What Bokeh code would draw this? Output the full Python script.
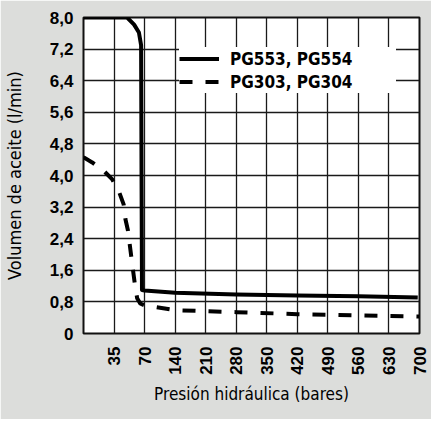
import numpy as np
from bokeh.plotting import figure
from bokeh.models import Range1d, FixedTicker, Legend, LegendItem
from bokeh.embed import file_html
from bokeh.resources import INLINE

# Axis ticks (x axis is an evenly spaced, non-linear pressure scale)
pressure_ticks = [0, 35, 70, 140, 210, 280, 350, 420, 490, 560, 630, 700]
pressure_labels = ["", "35", "70", "140", "210", "280", "350", "420", "490", "560", "630", "700"]
volume_ticks = [0, 0.8, 1.6, 2.4, 3.2, 4.0, 4.8, 5.6, 6.4, 7.2, 8.0]
volume_labels = ["0", "0,8", "1,6", "2,4", "3,2", "4,0", "4,8", "5,6", "6,4", "7,2", "8,0"]

# Series: PG553, PG554 (solid)
pg553_pressure = [0, 50, 58, 63.5, 66, 66.5, 67, 70, 140, 280, 420, 560, 696]
pg553_volume = [8.0, 8.0, 7.82, 7.62, 7.3, 4.0, 1.1, 1.09, 1.03, 0.99, 0.96, 0.94, 0.91]

# Series: PG303, PG304 (dashed)
pg303_pressure = [0, 10, 24, 33, 41, 46, 48, 51, 55, 59, 61.5, 65, 70, 140, 280, 420, 560, 700]
pg303_volume = [4.46, 4.33, 4.1, 3.9, 3.57, 3.27, 2.9, 2.6, 1.9, 1.22, 0.89, 0.76, 0.71, 0.59, 0.54, 0.49, 0.46, 0.43]

tick_pos = list(range(len(pressure_ticks)))


def to_pos(p):
    return np.interp(p, pressure_ticks, tick_pos)


NARROW = "DejaVu Sans Condensed"
BOLD = "Liberation Sans"

p = figure(width=431, height=419, output_backend="svg", toolbar_location=None,
           x_range=Range1d(0, tick_pos[-1]), y_range=Range1d(0, 8.0),
           min_border_left=80, min_border_right=12, min_border_top=17, min_border_bottom=86)

p.background_fill_color = "white"
p.border_fill_color = "#dcdddb"
p.outline_line_color = "#111111"
p.outline_line_width = 2

r1 = p.line(to_pos(pg553_pressure), pg553_volume, line_color="black", line_width=4,
            line_join="round")
r2 = p.line(to_pos(pg303_pressure), pg303_volume, line_color="black", line_width=4,
            line_dash="13 13", line_join="round")

# X axis
p.xaxis.ticker = FixedTicker(ticks=tick_pos[1:])
p.xaxis.major_label_overrides = {i: lab for i, lab in zip(tick_pos, pressure_labels)}
p.xaxis.major_label_orientation = np.pi / 2
p.xaxis.axis_label = "Presión hidráulica (bares)"

# Y axis
p.yaxis.ticker = FixedTicker(ticks=volume_ticks)
p.yaxis.major_label_overrides = {v: lab for v, lab in zip(volume_ticks, volume_labels)}
p.yaxis.axis_label = "Volumen de aceite (l/min)"

for ax in (p.xaxis, p.yaxis):
    ax.axis_line_color = None
    ax.major_tick_line_color = None
    ax.minor_tick_line_color = None
    ax.major_label_text_font = BOLD
    ax.major_label_text_font_style = "bold"
    ax.major_label_text_font_size = "17px"
    ax.major_label_text_color = "black"
    ax.axis_label_text_font = NARROW
    ax.axis_label_text_font_style = "normal"
    ax.axis_label_text_color = "black"

p.xaxis.major_label_standoff = 7
p.yaxis.major_label_standoff = 4
p.xaxis.axis_label_text_font_size = "17px"
p.xaxis.axis_label_standoff = 6
p.yaxis.axis_label_text_font_size = "18px"
p.yaxis.axis_label_standoff = 22

p.xgrid.ticker = FixedTicker(ticks=tick_pos[1:])
p.ygrid.ticker = FixedTicker(ticks=volume_ticks)
for g in (p.xgrid, p.ygrid):
    g.grid_line_color = "#1a1a1a"
    g.grid_line_width = 1.3
    g.grid_line_alpha = 1.0

legend = Legend(items=[LegendItem(label="PG553, PG554", renderers=[r1]),
                       LegendItem(label="PG303, PG304", renderers=[r2])],
                location=(96, 240))
legend.background_fill_color = "white"
legend.background_fill_alpha = 1.0
legend.border_line_color = None
legend.label_text_font = NARROW
legend.label_text_font_style = "bold"
legend.label_text_font_size = "17px"
legend.label_text_color = "black"
legend.glyph_width = 40
legend.glyph_height = 23
legend.label_standoff = 11
legend.label_width = 166
legend.label_height = 23
legend.padding = 8
legend.spacing = 0
legend.margin = 0
p.add_layout(legend)

open("out.html", "w").write(file_html(p, INLINE))
